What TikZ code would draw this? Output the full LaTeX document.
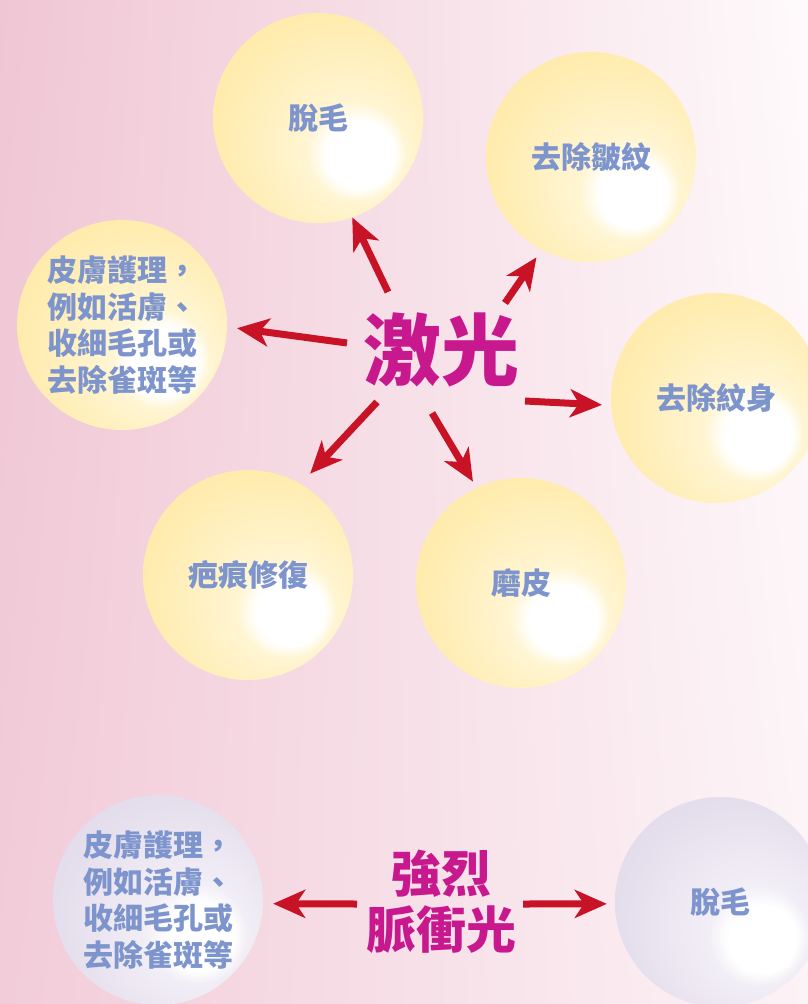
\documentclass[tikz,border=0pt]{standalone}
\usepackage{fontspec}
\newfontfamily\tcfont{Noto Sans CJK TC}
\usetikzlibrary{arrows.meta,shadings}
\definecolor{bgul}{HTML}{F0C6D4}
\definecolor{bgur}{HTML}{FEFAFB}
\definecolor{bgll}{HTML}{F2CCD9}
\definecolor{bglr}{HTML}{FCF3F6}
\definecolor{labelblue}{HTML}{7D94CD}
\definecolor{titlemag}{HTML}{C8188E}
\definecolor{rayred}{HTML}{C81226}
\definecolor{sunA}{HTML}{FFF5D2}
\definecolor{sunB}{HTML}{FFECB0}
\definecolor{sunC}{HTML}{FFE59C}
\definecolor{sunD}{HTML}{FFDE88}
\definecolor{lavA}{HTML}{F2EEF6}
\definecolor{lavB}{HTML}{E5DFED}
\definecolor{lavC}{HTML}{DBD2E6}
\definecolor{lavD}{HTML}{D1C5DF}
\pgfdeclareradialshading{sunball}{\pgfpoint{12bp}{-10.5bp}}{color(0bp)=(white); color(8bp)=(white); color(12bp)=(sunA); color(28bp)=(sunB); color(42bp)=(sunC); color(50bp)=(sunD)}
\pgfdeclareradialshading{lilacball}{\pgfpoint{12bp}{-10.5bp}}{color(0bp)=(white); color(8bp)=(white); color(12bp)=(lavA); color(28bp)=(lavB); color(42bp)=(lavC); color(50bp)=(lavD)}
\begin{document}
\begin{tikzpicture}[line join=round, x=1pt, y=-1pt]
	\tikzset{bubble/.style={circle, minimum size=210pt, inner sep=0pt, text=labelblue, align=center, font=\tcfont\bfseries\fontsize{30}{36.7}\selectfont},
		sun/.style={bubble, shading=sunball}, lilac/.style={bubble, shading=lilacball},
		ray/.style={draw=rayred, line width=7pt, -{Stealth[length=32pt, width=28pt, inset=9pt]}},
		heading/.style={text=titlemag, align=center}}
	\useasboundingbox (0,0) rectangle (808,1004);
	\clip (0,0) rectangle (808,1004);
	\shade[upper left=bgul, upper right=bgur, lower left=bgll, lower right=bglr] (0,0) rectangle (808,1004);
	\begin{scope}
		\node[sun] (hair) at (318,118) {脫毛};
		\node[sun] (wrinkle) at (591,157) {去除皺紋};
		\node[sun] (skin) at (122,325) {皮膚護理，\\例如活膚、\\收細毛孔或\\去除雀斑等};
		\node[sun] (tattoo) at (716,398) {去除紋身};
		\node[sun] (scar) at (248,575) {疤痕修復};
		\node[sun] (peel) at (521,583) {磨皮};
		\node[heading, font=\tcfont\bfseries\fontsize{78}{80}\selectfont] (laser) at (441,350) {激光};
		\draw[ray] ([shift={(-53,-58)}]laser.center) -- (hair.-71);
		\draw[ray, shorten >=9pt] ([shift={(64,-47)}]laser.center) -- (wrinkle.-118);
		\draw[ray, shorten >=10pt] ([shift={(-94,-7)}]laser.center) -- (skin.-1);
		\draw[ray, shorten >=9pt] ([shift={(84,51)}]laser.center) -- (tattoo.184);
		\draw[ray, shorten >=14pt] ([shift={(-64,52)}]laser.center) -- (scar.60);
		\draw[ray, shorten >=7pt] ([shift={(-9,63)}]laser.center) -- (peel.115);
	\end{scope}
	\begin{scope}
		\node[lilac] (care) at (158,900) {皮膚護理，\\例如活膚、\\收細毛孔或\\去除雀斑等};
		\node[lilac] (hairb) at (720,902) {脫毛};
		\node[heading, font=\tcfont\bfseries\fontsize{50}{56}\selectfont] (ipl) at (441,902) {強烈\\脈衝光};
		\draw[ray, shorten >=10pt] ([shift={(-84,2)}]ipl.center) -- (care.-2);
		\draw[ray, shorten >=8pt] ([shift={(82,2)}]ipl.center) -- (hairb.181);
	\end{scope}
\end{tikzpicture}
\end{document}
